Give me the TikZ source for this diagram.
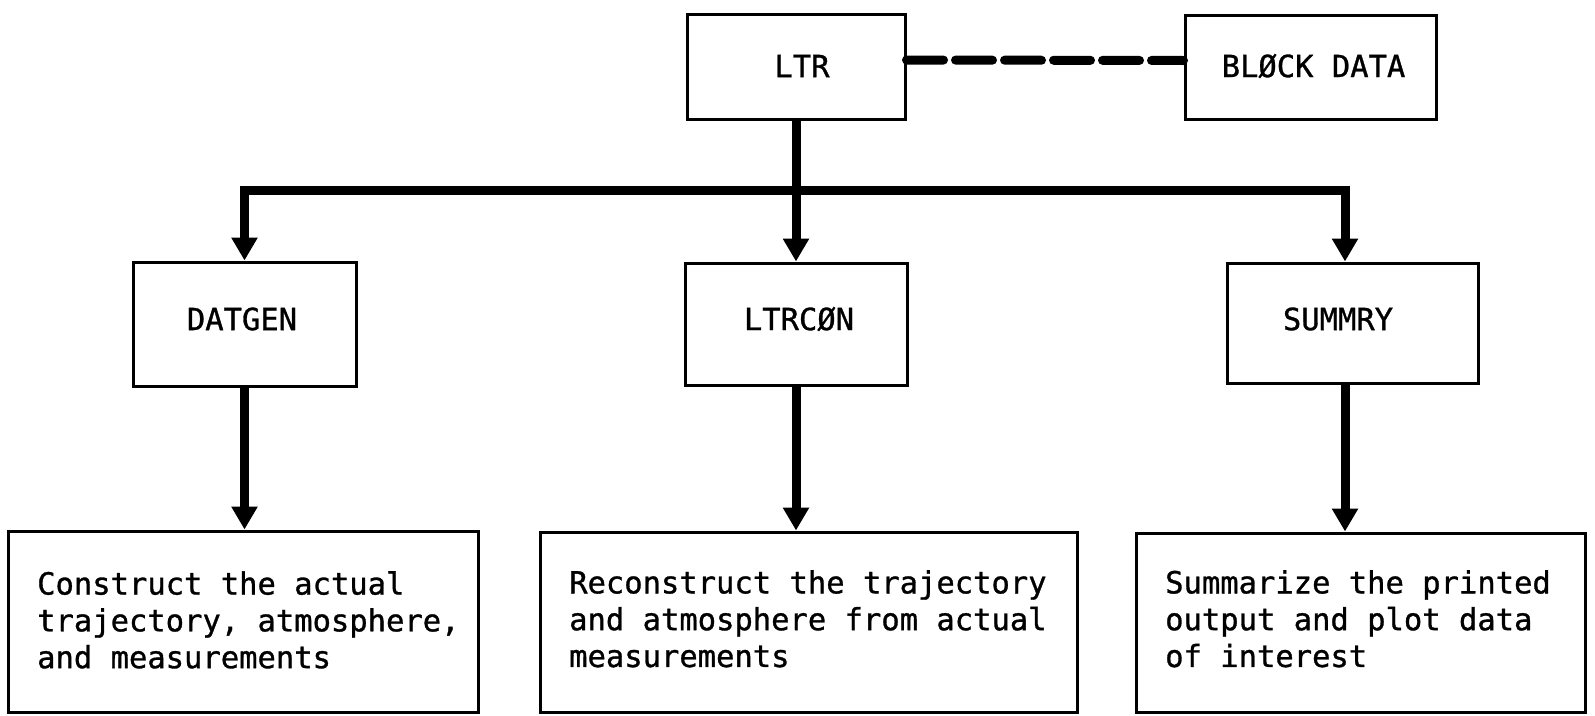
\documentclass[tikz,border=0pt]{standalone}
\usepackage{fontspec}
\newfontfamily\typer[FakeBold=1]{DejaVu Sans Mono}
\usetikzlibrary{arrows.meta}

\tikzset{
  box/.style={draw=black, line width=3pt, rectangle, inner sep=0pt, fill=white},
  lbl/.style={inner sep=0pt, font=\typer\fontsize{30.5pt}{36.5pt}\selectfont},
  desc/.style={inner sep=0pt, align=left, font=\typer\fontsize{30.5pt}{36.8pt}\selectfont},
  flow/.style={line width=9pt, -{Triangle[length=23pt, width=25pt]}},
  dashlink/.style={line width=9pt, line cap=round, dash pattern=on 37pt off 12pt}
}

\begin{document}
\begin{tikzpicture}[x=1pt, y=-1pt]
  % page
  \fill[white] (0,0) rectangle (1595,715);
  \useasboundingbox (0,0) rectangle (1595,715);

  % program units
  \node[box, minimum width=218pt, minimum height=105pt] (ltr)    at (796,66.5)   {};
  \node[box, minimum width=251pt, minimum height=104pt] (block)  at (1310.5,67)  {};
  \node[box, minimum width=223pt, minimum height=124pt] (datgen) at (244.5,324)  {};
  \node[box, minimum width=222pt, minimum height=122pt] (ltrcon) at (796,324)    {};
  \node[box, minimum width=251pt, minimum height=120pt] (summry) at (1352.5,323) {};

  \node[lbl] (ltrT)    at (802,66)    {LTR};
  \node[lbl] (blockT)  at (1313.5,66) {BLØCK DATA};
  \node[lbl] (datgenT) at (242,319)   {DATGEN};
  \node[lbl] (ltrconT) at (799,319)   {LTRCØN};
  \node[lbl] (summryT) at (1338,319)  {SUMMRY};

  % purpose boxes
  \node[box, minimum width=470pt, minimum height=181pt] (d1) at (243,621.5)    {};
  \node[box, minimum width=537pt, minimum height=180pt] (d2) at (808.5,622)    {};
  \node[box, minimum width=449pt, minimum height=179pt] (d3) at (1360.5,622.5) {};

  \node[desc, anchor=north west] (d1T) at (37,571)
    {Construct the actual\\trajectory, atmosphere,\\and measurements};
  \node[desc, anchor=north west] (d2T) at (569,570)
    {Reconstruct the trajectory\\and atmosphere from actual\\measurements};
  \node[desc, anchor=north west] (d3T) at (1165,570)
    {Summarize the printed\\output and plot data\\of interest};

  % connectors
  \draw[dashlink] ([yshift=6.5pt]ltr.east) -- ([yshift=6.5pt]block.west);

  \coordinate (junc) at (796,190);
  \draw[flow] (ltr.south) -- (ltrcon.north);
  \draw[flow] (junc) -| (datgen.north);
  \draw[flow] (junc) -| ([xshift=-7.5pt]summry.north);

  \draw[flow] (datgen.south) -- (datgen.south |- d1.north);
  \draw[flow] (ltrcon.south) -- (ltrcon.south |- d2.north);
  \draw[flow] ([xshift=-7.5pt]summry.south) -- ([xshift=-7.5pt]summry.south |- d3.north);
\end{tikzpicture}
\end{document}
